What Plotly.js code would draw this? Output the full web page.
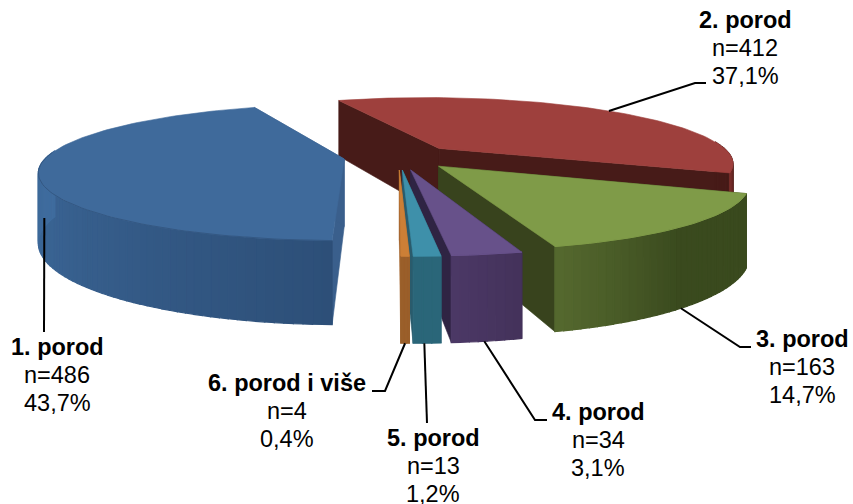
<!DOCTYPE html>
<html><head><meta charset="utf-8">
<script src="https://cdn.plot.ly/plotly-3.0.1.min.js"></script>
<style>html,body{margin:0;padding:0;background:#fff}#c{width:853px;height:504px}</style>
</head><body><div id="c"></div>
<script>
const categories = ["1. porod","2. porod","3. porod","4. porod","5. porod","6. porod i više"];
const counts = [486,412,163,34,13,4];
const percents = ["43,7%","37,1%","14,7%","3,1%","1,2%","0,4%"];
const topColors = ["#3f6a9b","#9e403d","#7f9b48","#67518a","#3e90aa","#cc7f36"];
const cutColors = ["#3a5f8c","#471b18","#38431d","#2f2443","#2a5b6c","#a5652d"];
const wallFrom = ["#3f6c9e","#471b18","#55692f","#4b3866","#2a6679","#9a5f2a"];
const wallTo   = ["#2d4f78","#7a2e2b","#3a4a1e","#43325a","#2a6679","#9a5f2a"];
const rimColors = ["#345883","#9e403d","#7f9b48","#67518a","#3e90aa","#cc7f36"];
const drawOrder = [1,0,2,3,4,5];
const explode = [55,60,57,60,60,60];
const radius = [310,305,305,305,305,305];
const labelX = [57,745,802,598,433,287];
const labelBase = [355,28,347,420,446,391];
const lineGap = 28;
const leaderFrac = [0.56,0.5,0.53,0.54,0.6,0.5];
const leaderZ = [58,0,67,67,67,67];
const leaderElbow = [[44,332],[695,83],[740,347],[535,420],[427,423],[385,391]];
const leaderEnd = [[44,332],[706,83],[751,347],[547,420],[427,423],[372,391]];

// scene projection
const X0=356.5,UC=42,YH=-173,B=330,H=67,D=1580,US=0.96,THETA0=181.4;
function P(u,v,z){const w=1/(1+v/D);return [X0+(UC+u)*w, YH+(B+z)*w];}
const total=counts.reduce((a,b)=>a+b,0);
const rad=d=>d*Math.PI/180;
let a=THETA0; const slices=counts.map(c=>{const s=a,e=a+c/total*360;a=e;return {s,e};});
function hex(c){return [1,3,5].map(i=>parseInt(c.substr(i,2),16));}
function mix(c1,c2,t){const A=hex(c1),Bb=hex(c2);return 'rgb('+A.map((x,i)=>Math.round(x+(Bb[i]-x)*t)).join(',')+')';}
const traces=[];
function poly(pts,color,lw){
  const xs=pts.map(p=>p[0]).concat([pts[0][0]]), ys=pts.map(p=>p[1]).concat([pts[0][1]]);
  traces.push({type:'scatter',mode:'lines',x:xs,y:ys,fill:'toself',fillcolor:color,
    line:{color:color,width:lw===undefined?0.6:lw},hoverinfo:'skip',showlegend:false});
}
function geom(i){
  const {s,e}=slices[i], m=(s+e)/2, E=explode[i], R=radius[i], ou=E*Math.sin(rad(m)), ov=E*Math.cos(rad(m));
  const pt=(t,z)=>P(ou+US*R*Math.sin(rad(t)),ov+R*Math.cos(rad(t)),z);
  const ap=z=>P(ou,ov,z);
  return {s,e,pt,ap};
}
drawOrder.forEach(i=>{
  const g=geom(i);
  // cut faces
  poly([g.ap(0),g.pt(g.s,0),g.pt(g.s,H),g.ap(H)],cutColors[i]);
  poly([g.ap(0),g.pt(g.e,0),g.pt(g.e,H),g.ap(H)],cutColors[i]);
  // outer wall strips (front-facing only)
  const n=Math.max(3,Math.ceil((g.e-g.s)/1.5));
  for(let k=0;k<n;k++){
    const t0=g.s+(g.e-g.s)*k/n, t1=g.s+(g.e-g.s)*(k+1)/n;
    if(Math.cos(rad((t0+t1)/2))>0.12) continue;
    const f=(k+0.5)/n;
    let tt = (i===0)? 1-Math.min(1,f*1.75) : (i===2? Math.min(1,(1-f)*2.2) : (i===1? Math.max(0,(f-0.93)/0.07): 1-f));
    poly([g.pt(t0,0),g.pt(t1,0),g.pt(t1,H),g.pt(t0,H)],mix(wallFrom[i],wallTo[i],tt),1.2);
  }
  // top
  const top=[g.ap(0)], rimx=[], rimy=[], m=Math.max(8,n);
  for(let k=0;k<=m;k++){
    const t=g.s+(g.e-g.s)*k/m, p=g.pt(t,0);
    top.push(p);
    if(Math.cos(rad(t))<0.12){rimx.push(p[0]);rimy.push(p[1]);}
  }
  poly(top,topColors[i]);
  traces.push({type:'scatter',mode:'lines',x:rimx,y:rimy,line:{color:rimColors[i],width:1},hoverinfo:'skip',showlegend:false});
});
// leader lines
categories.forEach((c,i)=>{
  const g=geom(i), t=g.s+(g.e-g.s)*leaderFrac[i];
  const start=g.pt(t,leaderZ[i]);
  traces.push({type:'scatter',mode:'lines',x:[start[0],leaderElbow[i][0],leaderEnd[i][0]],y:[start[1],leaderElbow[i][1],leaderEnd[i][1]],
    line:{color:'#000',width:2},hoverinfo:'skip',showlegend:false});
});
const annotations=[];
const fontFam='Liberation Sans, Arial, sans-serif';
categories.forEach((c,i)=>{
  ['<b>'+c+'</b>','n='+counts[i],percents[i]].forEach((txt,j)=>{
    annotations.push({xref:'x',yref:'y',x:labelX[i],y:labelBase[i]+j*lineGap-8,xanchor:'center',yanchor:'middle',showarrow:false,
      align:'center',text:txt,borderpad:0,font:{family:fontFam,size:23.5,color:'#000'}});
  });
});
const layout={width:853,height:504,margin:{l:0,r:0,t:0,b:0},paper_bgcolor:'#fff',plot_bgcolor:'#fff',
  xaxis:{range:[0,853],visible:false,fixedrange:true},
  yaxis:{range:[504,0],visible:false,fixedrange:true},
  annotations,showlegend:false};
Plotly.newPlot('c',traces,layout,{displayModeBar:false,staticPlot:true});
</script></body></html>
